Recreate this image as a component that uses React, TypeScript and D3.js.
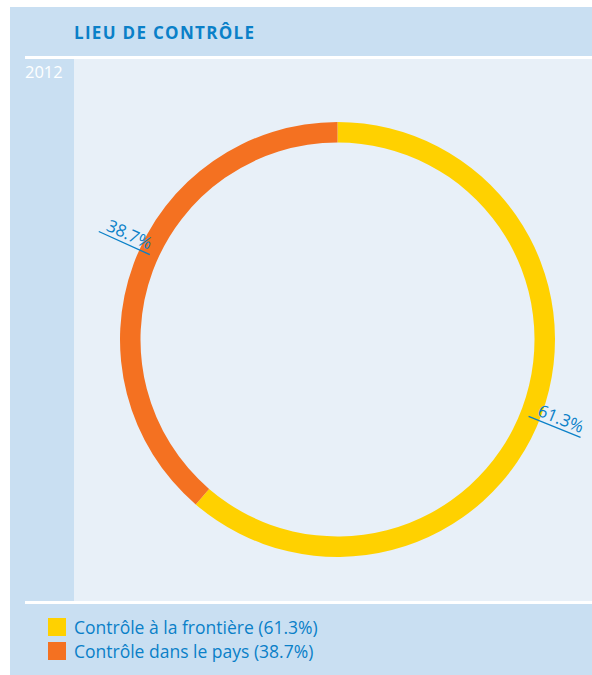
import React, { useRef, useEffect } from 'react';
import * as d3 from 'd3';

const categories = ['Contrôle à la frontière', 'Contrôle dans le pays'];
const values = [61.3, 38.7];
const colors = ['#ffd100', '#f47121'];
const title = 'LIEU DE CONTRÔLE';
const year = '2012';

const App: React.FC = () => {
  const svgRef = useRef<SVGSVGElement>(null);

  useEffect(() => {
    if (!svgRef.current) return;
    d3.select(svgRef.current).selectAll('*').remove();

    const W = 592;
    const H = 675;
    const svg = d3.select(svgRef.current).attr('width', W).attr('height', H);
    const font = "'Open Sans', 'Noto Sans', sans-serif";
    const blue = '#0a80c8';

    // Panels
    svg.append('rect').attr('x', 10).attr('y', 7).attr('width', W - 10).attr('height', H - 7).attr('fill', '#c9dff2');
    svg.append('rect').attr('x', 74).attr('y', 59).attr('width', W - 74).attr('height', 542).attr('fill', '#e8f0f8');
    svg.append('rect').attr('x', 25).attr('y', 56).attr('width', W - 25).attr('height', 3).attr('fill', '#fff');
    svg.append('rect').attr('x', 25).attr('y', 601).attr('width', W - 25).attr('height', 3).attr('fill', '#fff');

    svg.append('text')
      .attr('x', 74).attr('y', 39)
      .attr('font-family', font).attr('font-weight', 'bold')
      .attr('font-size', '17px').attr('letter-spacing', '1.3px')
      .attr('fill', blue)
      .text(title);

    svg.append('text')
      .attr('x', 25).attr('y', 78)
      .attr('font-family', font).attr('font-size', '16.5px')
      .attr('fill', '#fff')
      .text(year);

    // Donut
    const cx = 337.5;
    const cy = 339.5;
    const outerR = 217.5;
    const innerR = 197;

    const pie = d3.pie<number>().sort(null).value(d => d);
    const arcs = pie(values);
    const arc = d3.arc<d3.PieArcDatum<number>>().innerRadius(innerR).outerRadius(outerR);

    const g = svg.append('g').attr('transform', `translate(${cx},${cy})`);
    g.selectAll('path.slice')
      .data(arcs)
      .enter()
      .append('path')
      .attr('class', 'slice')
      .attr('d', arc)
      .attr('fill', (d, i) => colors[i]);

    // Labels along the radial direction near each slice's mid-angle
    const labelNudgeDeg = [1.6, 4];
    arcs.forEach((a, i) => {
      const mid = (a.startAngle + a.endAngle) / 2 + (labelNudgeDeg[i] * Math.PI) / 180;
      const ux = Math.sin(mid);
      const uy = -Math.cos(mid);
      const r1 = 206;
      const r2 = 262;
      g.append('line')
        .attr('x1', ux * r1).attr('y1', uy * r1)
        .attr('x2', ux * r2).attr('y2', uy * r2)
        .attr('stroke', blue).attr('stroke-width', 1.3);

      const rotDeg = (Math.atan2(uy, ux) * 180) / Math.PI;
      const rightSide = ux >= 0;
      const rot = rightSide ? rotDeg : rotDeg + 180;
      const rt = rightSide ? 213 : 209;
      g.append('text')
        .attr('transform', `translate(${ux * rt},${uy * rt}) rotate(${rot}) translate(0,-4)`)
        .attr('text-anchor', rightSide ? 'start' : 'end')
        .attr('font-family', font).attr('font-size', '17px')
        .attr('fill', blue)
        .text(`${d3.format('.1f')(values[i])}%`);
    });

    // Legend
    const legend = svg.append('g').attr('transform', 'translate(48,618)');
    const items = legend.selectAll('.legend-item')
      .data(categories)
      .enter()
      .append('g')
      .attr('class', 'legend-item')
      .attr('transform', (d, i) => `translate(0,${i * 24})`);

    items.append('rect')
      .attr('width', 18).attr('height', 18)
      .attr('fill', (d, i) => colors[i]);

    items.append('text')
      .attr('x', 26).attr('y', 16)
      .attr('font-family', font).attr('font-size', '17.5px')
      .attr('fill', blue)
      .text((d, i) => `${d} (${d3.format('.1f')(values[i])}%)`);
  }, []);

  return <svg ref={svgRef} style={{ position: 'absolute', left: 0, top: 0 }}></svg>;
};

export default App;
